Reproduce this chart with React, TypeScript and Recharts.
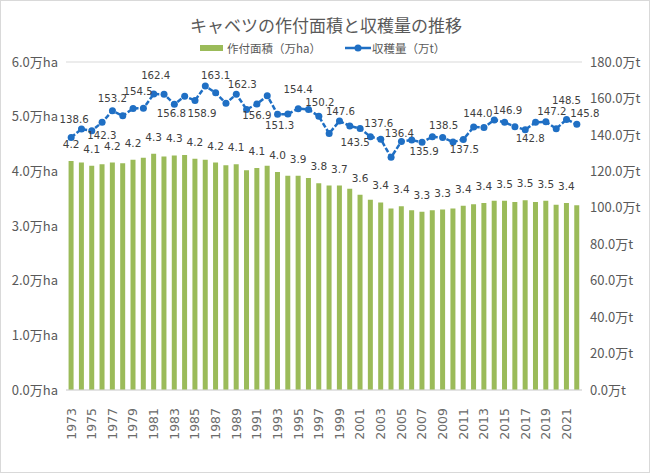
import { Bar, ComposedChart, CartesianGrid, LabelList, Line, XAxis, YAxis } from "recharts"

const years = [
  1973, 1974, 1975, 1976, 1977, 1978, 1979, 1980, 1981, 1982,
  1983, 1984, 1985, 1986, 1987, 1988, 1989, 1990, 1991, 1992,
  1993, 1994, 1995, 1996, 1997, 1998, 1999, 2000, 2001, 2002,
  2003, 2004, 2005, 2006, 2007, 2008, 2009, 2010, 2011, 2012,
  2013, 2014, 2015, 2016, 2017, 2018, 2019, 2020, 2021, 2022,
]

// 作付面積（万ha）
const area = [
  4.19, 4.16, 4.1, 4.13, 4.16, 4.15, 4.21, 4.25, 4.32, 4.27,
  4.29, 4.3, 4.23, 4.21, 4.16, 4.11, 4.13, 4.02, 4.06, 4.1,
  3.99, 3.92, 3.92, 3.88, 3.78, 3.74, 3.74, 3.68, 3.57, 3.48,
  3.43, 3.32, 3.36, 3.29, 3.26, 3.29, 3.3, 3.32, 3.37, 3.4,
  3.42, 3.46, 3.46, 3.44, 3.47, 3.44, 3.46, 3.39, 3.42, 3.38,
]

// 収穫量（万t）
const harvest = [
  138.6, 143.2, 142.3, 146.9, 153.2, 150.5, 154.5, 154.6, 162.4, 162.3,
  156.8, 161.2, 158.9, 166.8, 163.1, 157.3, 162.3, 154.0, 156.9, 161.5,
  151.3, 151.4, 154.4, 154.0, 150.2, 140.8, 147.6, 144.9, 143.5, 139.0,
  137.6, 127.7, 136.4, 137.2, 135.9, 139.0, 138.5, 136.1, 137.5, 144.3,
  144.0, 148.2, 146.9, 144.5, 142.8, 146.9, 147.2, 143.4, 148.5, 145.8,
]

const leftTicks = [0, 1, 2, 3, 4, 5, 6]
const rightTicks = [0, 20, 40, 60, 80, 100, 120, 140, 160, 180]

// where each harvest label sits relative to its point (dx, dy)
const harvestLabelOffset: Record<number, [number, number]> = {
  1973: [3, -18], 1975: [10, 5], 1977: [0, -12], 1979: [5, -17], 1981: [2, -19],
  1983: [-3, 9], 1985: [7, 13], 1987: [0, -17], 1989: [6, -10], 1991: [0, 11],
  1993: [2, 11], 1995: [0, -19], 1997: [1, -14], 1999: [1, -10], 2001: [-5, 14],
  2003: [-2, -16], 2005: [-2, -8], 2007: [2, 9], 2009: [1, -12], 2011: [1, 10],
  2013: [-6, -14], 2015: [3, -12], 2017: [5, 9], 2019: [6, -10], 2021: [0, -19],
  2022: [8, -11],
}

const data = years.map((year, i) => ({
  year: String(year),
  area: area[i],
  harvest: harvest[i],
}))

const BAR = "#9BBB59"
const LINE = "#1F6FC4"
const GRAY = "#595959"
const JP = "'Noto Sans CJK JP', 'Noto Sans', sans-serif"
const LABEL_FONT = "'DejaVu Sans', Verdana, sans-serif"

function AreaLabel(props: any) {
  const { x, y, width, value, index } = props
  if (index % 2 !== 0) return null
  return (
    <text x={x + width / 2} y={y - 17} textAnchor="middle" dominantBaseline="central"
      fontFamily={LABEL_FONT} fontSize={10.5} fill="#404040">
      {Number(value).toFixed(1)}
    </text>
  )
}

function HarvestLabel(props: any) {
  const { x, y, value, index } = props
  const off = harvestLabelOffset[years[index]]
  if (!off) return null
  return (
    <text x={x + off[0]} y={y + off[1]} textAnchor="middle" dominantBaseline="central"
      fontFamily={LABEL_FONT} fontSize={10.2} fill="#404040">
      {Number(value).toFixed(1)}
    </text>
  )
}

function YearTick(props: any) {
  const { x, y, payload } = props
  return (
    <text x={x} y={y + 10} transform={`rotate(-90, ${x}, ${y + 10})`} textAnchor="end" dy="0.35em"
      fontFamily={LABEL_FONT} fontSize={12.5} fill="#6a6a6a">
      {payload.value}
    </text>
  )
}

export default function App() {
  return (
    <div style={{ position: "absolute", left: 0, top: 0, width: 650, height: 473, background: "#fff",
      border: "1px solid #d9d9d9", boxSizing: "border-box" }}>
      <div style={{ position: "absolute", left: 0, width: 650, top: 13, textAlign: "center",
        fontFamily: JP, fontSize: 17, color: GRAY, lineHeight: "22px" }}>
        キャベツの作付面積と収穫量の推移
      </div>
      <div style={{ position: "absolute", left: 199, top: 38, height: 18, display: "flex", alignItems: "center",
        fontFamily: JP, fontSize: 11.5, color: GRAY }}>
        <span style={{ display: "inline-block", width: 23, height: 6, background: BAR, marginRight: 4 }} />
        <span>作付面積（万ha）</span>
        <svg width={26} height={10} style={{ marginLeft: 24, marginRight: 1 }}>
          <line x1={0} y1={5} x2={26} y2={5} stroke={LINE} strokeWidth={2.5} />
          <circle cx={13} cy={5} r={3.5} fill={LINE} />
        </svg>
        <span>収穫量（万t）</span>
      </div>
      <ComposedChart width={650} height={473} data={data} barCategoryGap="25%"
        margin={{ top: 62, right: 8, bottom: 0, left: 8 }} style={{ position: "absolute", left: -1, top: -1 }}>
        <CartesianGrid vertical={false} stroke="#d9d9d9" />
        <XAxis dataKey="year" interval={1} height={83} tickLine={false} stroke="#d9d9d9"
          tick={<YearTick />} />
        <YAxis yAxisId="l" width={58} domain={[0, 6]} ticks={leftTicks} axisLine={false} tickLine={false}
          tickFormatter={(v: number) => `${v.toFixed(1)}万ha`}
          tick={{ fill: GRAY, fontSize: 13, fontFamily: JP }} />
        <YAxis yAxisId="r" orientation="right" width={60} domain={[0, 180]} ticks={rightTicks}
          axisLine={false} tickLine={false} tickFormatter={(v: number) => `${v.toFixed(1)}万t`}
          tick={{ fill: GRAY, fontSize: 13, fontFamily: JP }} />
        <Bar yAxisId="l" dataKey="area" fill={BAR} isAnimationActive={false}>
          <LabelList dataKey="area" content={<AreaLabel />} />
        </Bar>
        <Line yAxisId="r" dataKey="harvest" stroke={LINE} strokeWidth={2.5} strokeDasharray="5 2"
          dot={{ r: 3.5, fill: LINE, stroke: LINE, strokeWidth: 0 }} isAnimationActive={false}>
          <LabelList dataKey="harvest" content={<HarvestLabel />} />
        </Line>
      </ComposedChart>
    </div>
  )
}
